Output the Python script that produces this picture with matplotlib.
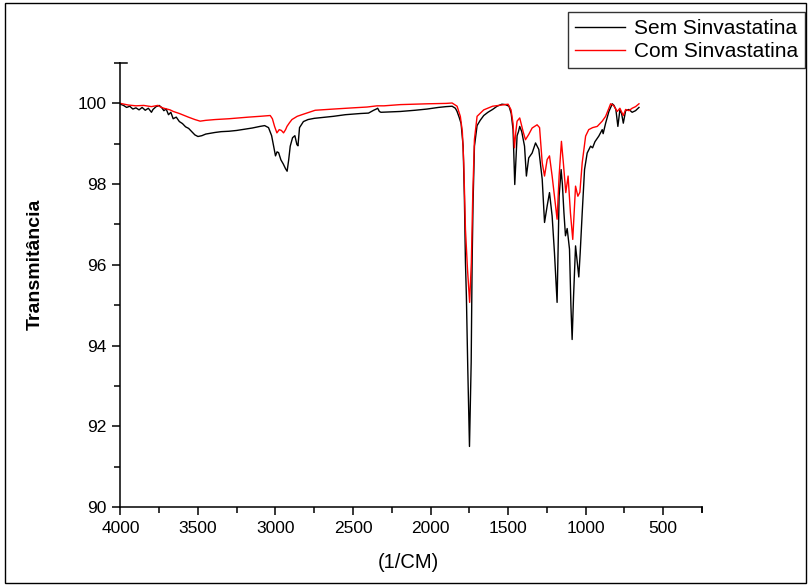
import matplotlib
matplotlib.use("Agg")
import matplotlib.pyplot as plt
from matplotlib.lines import Line2D
from matplotlib.patches import Rectangle
from matplotlib.ticker import MultipleLocator

plt.rcParams['font.family'] = ['Liberation Sans', 'DejaVu Sans']

# FTIR spectra (wavenumber in 1/cm, transmittance)
wn_sem = [4000, 3980, 3960, 3940, 3920, 3900, 3880, 3860, 3840, 3820, 3800, 3790, 3770, 3750,
          3735, 3720, 3705, 3690, 3675, 3660, 3640, 3620, 3600, 3580, 3560, 3540, 3520, 3500,
          3475, 3450, 3420, 3390, 3350, 3300, 3250, 3200, 3150, 3100, 3070, 3045, 3025, 3012,
          3000, 2990, 2980, 2965, 2950, 2935, 2925, 2915, 2905, 2890, 2875, 2862, 2855, 2845,
          2820, 2790, 2750, 2700, 2626, 2550, 2450, 2400, 2367, 2350, 2341, 2330, 2320, 2250,
          2195, 2100, 2023, 1950, 1900, 1861, 1840, 1829, 1815, 1803, 1790, 1782, 1775, 1769,
          1760, 1749, 1738, 1732, 1726, 1717, 1700, 1680, 1657, 1630, 1600, 1571, 1540, 1517,
          1494, 1480, 1468, 1457, 1448, 1442, 1433, 1425, 1412, 1394, 1382, 1367, 1345, 1323,
          1302, 1280, 1265, 1248, 1233, 1216, 1201, 1184, 1171, 1158, 1150, 1140, 1130, 1119,
          1104, 1095, 1087, 1078, 1065, 1054, 1044, 1035, 1022, 1007, 990, 968, 955, 940, 915,
          893, 887, 871, 850, 828, 817, 805, 792, 779, 768, 757, 742, 721, 700, 678, 656]
t_sem = [99.98, 99.95, 99.90, 99.93, 99.86, 99.89, 99.84, 99.90, 99.83, 99.88, 99.78, 99.85, 99.92, 99.95,
         99.90, 99.82, 99.86, 99.72, 99.78, 99.62, 99.66, 99.55, 99.50, 99.42, 99.38, 99.30, 99.22, 99.18,
         99.20, 99.24, 99.26, 99.28, 99.30, 99.31, 99.33, 99.36, 99.39, 99.43, 99.45, 99.40, 99.20, 98.94,
         98.70, 98.80, 98.78, 98.60, 98.50, 98.38, 98.32, 98.60, 98.94, 99.15, 99.20, 98.98, 98.95, 99.40,
         99.55, 99.60, 99.63, 99.65, 99.68, 99.72, 99.75, 99.76, 99.83, 99.86, 99.88, 99.80, 99.78, 99.79,
         99.80, 99.83, 99.86, 99.90, 99.92, 99.93, 99.88, 99.80, 99.65, 99.50, 98.94, 97.70, 96.06, 95.23,
         93.43, 91.50, 93.59, 96.06, 97.54, 98.94, 99.45, 99.58, 99.70, 99.78, 99.85, 99.93, 99.98, 99.97,
         99.93, 99.75, 99.35, 97.99, 98.70, 99.20, 99.30, 99.43, 99.30, 98.94, 98.20, 98.65, 98.77, 99.02,
         98.86, 98.12, 97.05, 97.46, 97.79, 97.21, 96.30, 95.07, 97.70, 98.36, 98.00, 97.30, 96.72, 96.90,
         96.39, 95.00, 94.15, 95.20, 96.47, 96.06, 95.70, 96.30, 97.29, 98.36, 98.77, 98.94, 98.90, 99.05, 99.19,
         99.35, 99.25, 99.51, 99.80, 99.99, 99.95, 99.85, 99.43, 99.84, 99.75, 99.51, 99.82, 99.85, 99.78, 99.82, 99.90]

wn_com = [4000, 3950, 3900, 3850, 3800, 3760, 3740, 3720, 3700, 3680, 3659, 3620, 3562, 3520,
          3486, 3450, 3389, 3300, 3174, 3100, 3034, 3020, 3006, 2991, 2976, 2962, 2948, 2935,
          2926, 2910, 2894, 2860, 2830, 2744, 2626, 2500, 2410, 2345, 2300, 2195, 2023, 1900,
          1861, 1829, 1808, 1795, 1786, 1775, 1762, 1748, 1737, 1728, 1717, 1700, 1657, 1600,
          1500, 1481, 1468, 1459, 1450, 1442, 1425, 1403, 1388, 1367, 1345, 1313, 1297, 1280,
          1265, 1248, 1233, 1216, 1201, 1184, 1171, 1156, 1143, 1128, 1113, 1098, 1083, 1065,
          1050, 1037, 1022, 1000, 980, 955, 925, 893, 871, 850, 839, 820, 796, 779, 757, 742,
          721, 700, 678, 656]
t_com = [100.0, 99.96, 99.94, 99.95, 99.92, 99.95, 99.91, 99.88, 99.86, 99.84, 99.80, 99.75, 99.66, 99.60,
         99.56, 99.58, 99.60, 99.62, 99.66, 99.68, 99.70, 99.62, 99.43, 99.27, 99.35, 99.33, 99.27, 99.35,
         99.43, 99.52, 99.60, 99.68, 99.72, 99.83, 99.86, 99.89, 99.91, 99.94, 99.94, 99.97, 99.99, 100.0,
         100.01, 99.93, 99.68, 99.30, 98.53, 96.88, 95.90, 95.07, 96.06, 97.70, 99.11, 99.68, 99.84, 99.93,
         99.98, 99.84, 99.50, 98.90, 99.30, 99.56, 99.64, 99.30, 99.10, 99.23, 99.39, 99.47, 99.40, 98.53,
         98.20, 98.61, 98.70, 98.20, 97.70, 97.13, 98.20, 99.06, 98.50, 97.79, 98.20, 97.29, 96.63, 97.95,
         97.70, 97.80, 98.53, 99.19, 99.35, 99.40, 99.43, 99.56, 99.68, 99.88, 99.99, 99.95, 99.80, 99.88,
         99.70, 99.85, 99.82, 99.88, 99.92, 99.99]

x_ticks = [4000, 3500, 3000, 2500, 2000, 1500, 1000, 500]
y_ticks = [90, 92, 94, 96, 98, 100]

fig = plt.figure(figsize=(8.11, 5.87), dpi=100)
ax = fig.add_axes([0.1485, 0.1363, 0.7170, 0.7563])

ax.plot(wn_sem, t_sem, color='black', lw=1.0, label='Sem Sinvastatina')
ax.plot(wn_com, t_com, color='red', lw=1.0, label='Com Sinvastatina')

ax.set_xlim(4000, 250)
ax.set_ylim(90, 101)
ax.set_xticks(x_ticks)
ax.set_yticks(y_ticks)
ax.xaxis.set_minor_locator(MultipleLocator(250))
ax.yaxis.set_minor_locator(MultipleLocator(1))

for s in ['top', 'right']:
    ax.spines[s].set_visible(False)
for s in ['left', 'bottom']:
    ax.spines[s].set_linewidth(1.1)
ax.tick_params(which='major', direction='out', length=6, width=1.1, labelsize=12.5, pad=4)
ax.tick_params(which='minor', direction='out', length=4, width=1.1)

# little end hooks of the axes
ax.add_line(Line2D([0, 0.012], [1, 1], transform=ax.transAxes, color='black', lw=1.1, clip_on=False))
ax.add_line(Line2D([1, 1], [0, -0.012], transform=ax.transAxes, color='black', lw=1.1, clip_on=False))

ax.set_ylabel('Transmitância', fontsize=14, fontweight='bold', va='center')
ax.yaxis.set_label_coords(-0.146, 0.547)
ax.set_xlabel('(1/CM)', fontsize=14.5, va='center')
ax.xaxis.set_label_coords(0.496, -0.126)

leg = fig.legend(loc='upper right', bbox_to_anchor=(0.9926, 0.98), fontsize=15,
                 frameon=True, fancybox=False, edgecolor='black', handlelength=2.4,
                 borderpad=0.35, labelspacing=0.2, handletextpad=0.4, borderaxespad=0)
leg.get_frame().set_linewidth(1.0)

fig.patches.append(Rectangle((0.006, 0.006), 0.988, 0.989, transform=fig.transFigure,
                             fill=False, edgecolor='black', lw=1.0))

fig.savefig('out.png', dpi=100)
